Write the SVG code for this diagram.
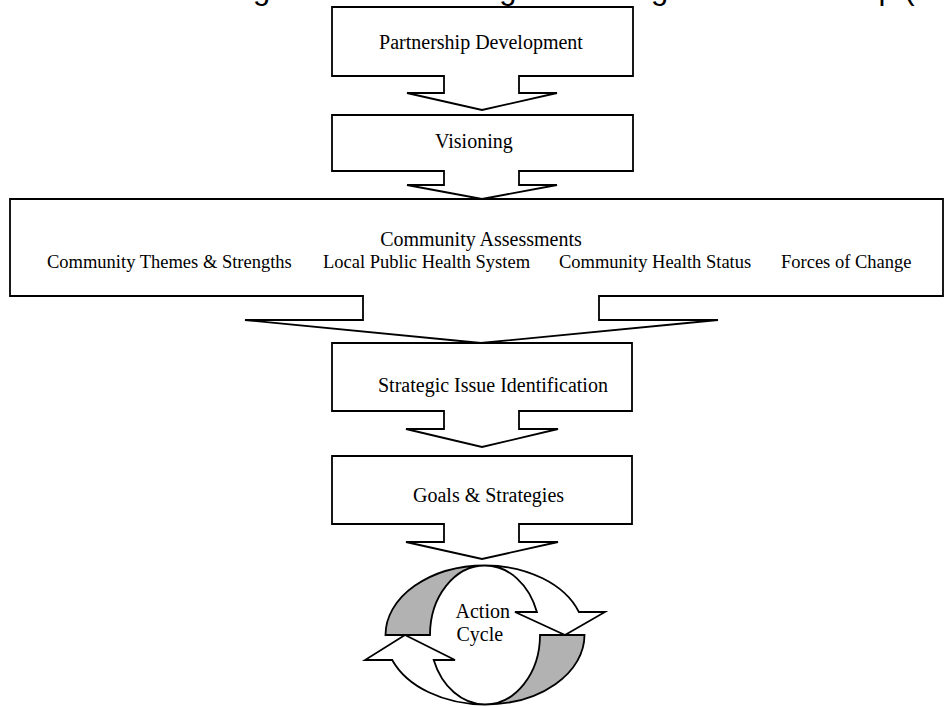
<svg xmlns="http://www.w3.org/2000/svg" width="945" height="707" viewBox="0 0 945 707">
<style>
.shape{fill:#ffffff;stroke:#000000;stroke-width:1.8;stroke-linejoin:miter}
.grey{fill:#b2b2b2;stroke:#000000;stroke-width:1.8}
.lbl{font-family:"Liberation Serif","Times New Roman",serif;font-size:20px;fill:#000000}
.sub{font-family:"Liberation Serif","Times New Roman",serif;font-size:18.5px;fill:#000000}
.title{font-family:"Liberation Sans",Arial,sans-serif;font-size:31px;fill:#000000}
</style>
<rect x="0" y="0" width="945" height="707" fill="#ffffff"/>
<text class="title" x="149.5" y="-1">Planning Model for Strategic Planning and Partnership (MAPP)</text>

<g id="connectors"></g>

<g id="partnership">
<path class="shape" d="M332,7 H633 V76 H519 V93 H557 L482,110 L407,93 H444 V76 H332 Z"/>
<text class="lbl" x="481" y="48.5" text-anchor="middle">Partnership Development</text>
</g>

<g id="visioning">
<path class="shape" d="M332,115 H633 V171 H519 V185 H557 L482,199 L407,185 H444 V171 H332 Z"/>
<text class="lbl" x="435" y="148">Visioning</text>
</g>

<g id="assessments">
<path class="shape" d="M10,199 H943 V296 H599 V320 H718 L481,343 L245,320 H363 V296 H10 Z"/>
<text class="lbl" x="481" y="246" text-anchor="middle">Community Assessments</text>
<text class="sub" x="47" y="267.5">Community Themes &amp; Strengths</text>
<text class="sub" x="323" y="267.5">Local Public Health System</text>
<text class="sub" x="559" y="267.5">Community Health Status</text>
<text class="sub" x="781" y="267.5">Forces of Change</text>
</g>

<g id="strategic">
<path class="shape" d="M332,343 H632 V411 H519 V429 H558 L482,447 L406,429 H444 V411 H332 Z"/>
<text class="lbl" x="378" y="392">Strategic Issue Identification</text>
</g>

<g id="goals">
<path class="shape" d="M332,456 H632 V524 H519 V542 H558 L482,559 L406,542 H444 V524 H332 Z"/>
<text class="lbl" x="413" y="502">Goals &amp; Strategies</text>
</g>

<g id="action-cycle">
<path class="grey" d="M385.5,635 A99.5,69.5 0 0 1 485,565.5 A55,69.5 0 0 0 430,635 Z"/>
<path class="shape" d="M485,565.5 A99.5,69.5 0 0 1 578.9,612 L605,612 L565,635 L515,612 L536.9,612 A55,69.5 0 0 0 485,565.5 Z"/>
<path class="grey" d="M584.5,635 A99.5,69.5 0 0 1 485,704.5 A55,69.5 0 0 0 540,635 Z"/>
<path class="shape" d="M485,704.5 A99.5,69.5 0 0 1 392.2,660 L365,660 L405,635 L455,660 L433.7,660 A55,69.5 0 0 0 485,704.5 Z"/>
<text class="lbl" x="455.5" y="618" font-size="20.5">Action</text>
<text class="lbl" x="456.5" y="641" font-size="20.5">Cycle</text>
</g>
</svg>
